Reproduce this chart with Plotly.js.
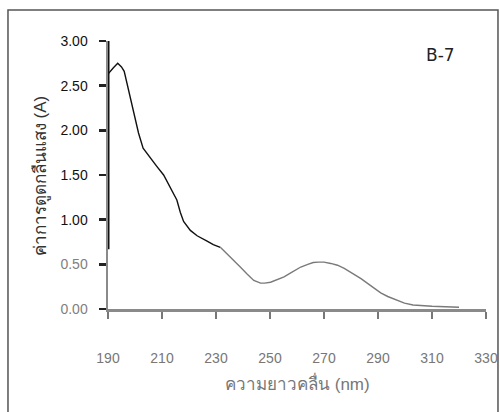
<!DOCTYPE html>
<html>
<head>
<meta charset="utf-8">
<script src="https://cdn.plot.ly/plotly-3.0.1.min.js"></script>
<style>
  html, body { margin: 0; padding: 0; background: #fff; }
  #chart { width: 500px; height: 412px; }
</style>
</head>
<body>
<div id="chart"></div>
<script>
// Wavelength (nm) and absorbance (A)
const wavelengthUpper = [190, 191, 192, 193.6, 195, 196, 197, 198.8, 200, 201.3, 203, 205.6, 208, 210.6, 213, 215.5, 216.8, 218, 220.5, 223, 226.7, 229, 231.6];
const absorbanceUpper = [2.63, 2.66, 2.70, 2.75, 2.71, 2.66, 2.53, 2.32, 2.16, 1.97, 1.80, 1.69, 1.60, 1.50, 1.36, 1.22, 1.08, 0.98, 0.88, 0.82, 0.76, 0.72, 0.69];
const wavelengthLower = [231.6, 234, 236.6, 239, 241.6, 244, 246.5, 248, 250.2, 253, 255.2, 258, 261.4, 264, 266, 268, 270, 272.5, 275, 277.5, 280, 283.7, 286, 288.6, 291, 293.6, 296, 299.8, 303, 306, 310, 315, 320];
const absorbanceLower = [0.69, 0.62, 0.55, 0.47, 0.39, 0.32, 0.29, 0.29, 0.30, 0.33, 0.36, 0.41, 0.47, 0.50, 0.52, 0.525, 0.525, 0.51, 0.49, 0.455, 0.41, 0.34, 0.29, 0.23, 0.18, 0.14, 0.11, 0.065, 0.045, 0.035, 0.03, 0.025, 0.02];

const xTickVals = [190, 210, 230, 250, 270, 290, 310, 330];
const xTickLabels = ["190", "210", "230", "250", "270", "290", "310", "330"];
const yTickVals = [0, 0.5, 1, 1.5, 2, 2.5, 3];
const yTickLabels = ["0.00", "0.50", "1.00", "1.50", "2.00", "2.50", "3.00"];
const sampleLabel = "B-7";
const xTitle = "ความยาวคลื่น (nm)";
const yTitle = "ค่าการดูดกลืนแสง (A)";

const FONT = "Liberation Sans, Arial, DejaVu Sans, Noto Sans, sans-serif";
const GRAY = "#808080";

const yTickText = yTickLabels.map((t, i) =>
  yTickVals[i] < 0.75 ? '<span style="color:' + GRAY + '">' + t + '</span>' : t);

const traces = [
  { x: wavelengthUpper, y: absorbanceUpper, mode: "lines", line: { color: "#111", width: 1.4 }, hoverinfo: "skip" },
  { x: wavelengthLower, y: absorbanceLower, mode: "lines", line: { color: "#7a7a7a", width: 1.4 }, hoverinfo: "skip" }
];

const layout = {
  width: 500, height: 412,
  margin: { l: 108, r: 14, t: 41, b: 103 },
  paper_bgcolor: "#fff", plot_bgcolor: "#fff",
  showlegend: false,
  font: { family: FONT, size: 14, color: "#111" },
  xaxis: {
    range: [190, 330], showgrid: false, zeroline: false,
    showline: true, linecolor: "#8a8a8a", linewidth: 2.5,
    ticks: "outside", ticklen: 7, tickwidth: 2, tickcolor: "#777",
    tickvals: xTickVals, ticktext: xTickLabels,
    tickfont: { family: FONT, size: 14, color: "#777" },
    ticklabelstandoff: 28
  },
  yaxis: {
    range: [0, 3], showgrid: false, zeroline: false,
    showline: true, linecolor: "#8a8a8a", linewidth: 2.5,
    ticks: "outside", ticklen: 7, tickwidth: 2.5, tickcolor: "#222",
    tickvals: yTickVals, ticktext: yTickText,
    tickfont: { family: FONT, size: 14, color: "#111" },
    ticklabelstandoff: 8
  },
  shapes: [
    { type: "line", xref: "x", yref: "y", x0: 190, x1: 190, y0: 0.67, y1: 3.0, line: { color: "#111", width: 3 } },
    { type: "rect", xref: "paper", yref: "paper", x0: -0.2646, x1: 1.0317, y0: -0.42, y1: 1.1157,
      line: { color: "#555", width: 1.5 }, fillcolor: "rgba(0,0,0,0)", layer: "below" }
  ],
  annotations: [
    { text: sampleLabel, xref: "x", yref: "y", x: 313, y: 2.84, showarrow: false,
      font: { family: "DejaVu Sans, Liberation Sans, sans-serif", size: 17, color: "#222" } },
    { text: xTitle, xref: "paper", yref: "paper", x: 0.5, y: -0.276, yanchor: "middle", showarrow: false,
      font: { family: FONT, size: 17, color: "#777" } },
    { text: yTitle, xref: "paper", yref: "paper", x: -0.177, y: 0.496, xanchor: "center", yanchor: "middle",
      textangle: -90, showarrow: false, font: { family: FONT, size: 17, color: "#333" } }
  ]
};

Plotly.newPlot("chart", traces, layout, { staticPlot: true, displayModeBar: false });
</script>
</body>
</html>
